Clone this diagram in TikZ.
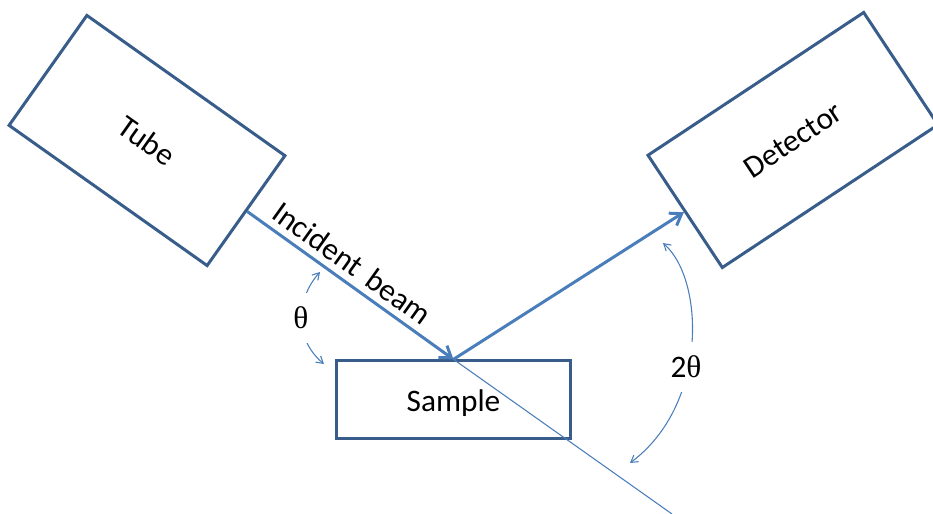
\documentclass[tikz,border=0pt]{standalone}
\usepackage{fontspec}
\setmainfont{Carlito}
\newfontfamily\symfont{Liberation Serif}
\usetikzlibrary{arrows.meta}
\definecolor{boxblue}{RGB}{56,93,138}
\definecolor{beamblue}{RGB}{74,126,187}
\begin{document}
\begin{tikzpicture}[x=0.75pt,y=-0.75pt, font=\fontsize{23.5}{28}\selectfont,
 box/.style={draw=boxblue, line width=2.25pt, fill=white, rectangle, minimum height=101pt, inner sep=0pt},
 beam/.style={draw=beamblue, line width=2.25pt, -{Straight Barb[length=8pt,width=11pt]}},
 thinline/.style={draw=beamblue, line width=0.8pt},
 angarc/.style={draw=beamblue, line width=0.8pt, {Straight Barb[length=5pt,width=6pt]}-{Straight Barb[length=5pt,width=6pt]}},
 anglab/.style={fill=white, inner sep=0pt, minimum width=24pt, minimum height=37pt}]
\useasboundingbox (0,0) rectangle (933,514);
\clip (0,0) rectangle (933,514);
\node[box, minimum width=182pt, rotate=-35.3] (tube) at (147,140.5) {Tube};
\node[box, minimum width=194pt, rotate=33.5] (det) at (793,140) {Detector};
\node[box, minimum width=175pt, minimum height=58pt] (sample) at (453.5,399.5) {\raisebox{-3pt}[\height][\depth]{Sample}};
\coordinate (beamend) at (672,514);
\draw[thinline] (sample.north) -- (beamend);
\draw[beam] (tube.east) -- node[pos=0.455, sloped, above=1.5pt, text=black] (lab) {Incident\hspace{0.35em}beam} (sample.north);
\draw[beam] (sample.north) -- (det.west);
\coordinate (t1) at (320,272);
\coordinate (t2) at (324,364);
\draw[angarc] (t1) .. controls (295,300) and (295,340) .. (t2);
\node[anglab] (th) at (301,318) {\symfont θ};
\coordinate (d1) at (663,243);
\coordinate (d2) at (630,463);
\draw[angarc] (d1) .. controls (705,280) and (708,405) .. (d2);
\node[anglab, minimum width=40pt] (tth) at (686,367) {2\symfont θ};
\end{tikzpicture}
\end{document}
